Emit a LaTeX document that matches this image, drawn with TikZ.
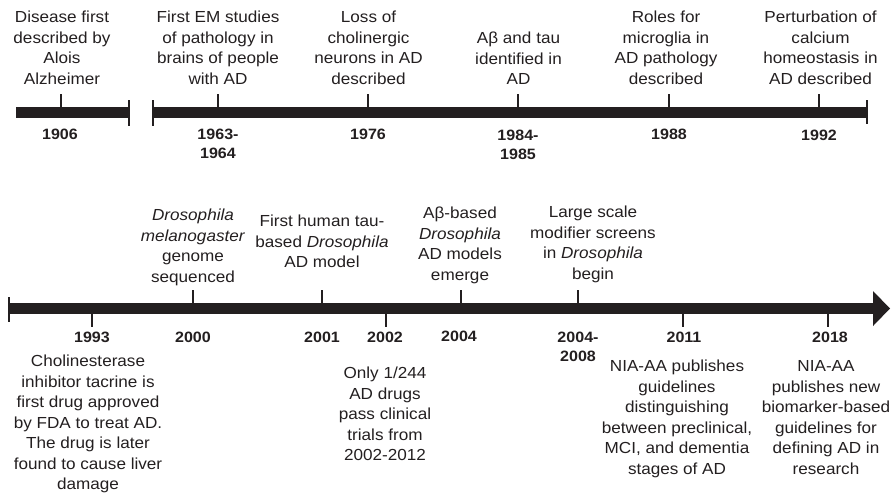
\documentclass[tikz,border=0pt]{standalone}
\usepackage{fontspec}
\setmainfont{Liberation Sans}[FakeStretch=1.07]
\definecolor{txt}{HTML}{231F20}
\newcommand\ml[1]{\begin{tabular}[t]{@{}c@{}}#1\end{tabular}}
\begin{document}
\begin{tikzpicture}[x=1pt,y=-1pt,
  ev/.style={anchor=base, inner sep=0pt, text=txt, font=\fontsize{16}{20.7}\selectfont},
  evb/.style={anchor=base, inner sep=0pt, text=txt, font=\fontsize{16}{20.5}\selectfont},
  yr/.style={anchor=base, inner sep=0pt, text=txt, font=\fontsize{15}{19}\selectfont\bfseries},
  tickline/.style={line width=2pt, draw=txt},
  barfill/.style={fill=txt}]
\useasboundingbox (0,0) rectangle (896,496);

% ---------- top timeline ----------
\fill[barfill] (16,107) rectangle (129,118);
\coordinate (e1a) at (129,100); \coordinate (e1b) at (129,126);
\draw[tickline] (e1a) -- (e1b);
\fill[barfill] (153,107) rectangle (867,118);
\coordinate (s2a) at (153,100); \coordinate (s2b) at (153,126);
\draw[tickline] (s2a) -- (s2b);
\coordinate (e2a) at (867,100); \coordinate (e2b) at (867,124);
\draw[tickline] (e2a) -- (e2b);

\foreach \n/\x in {a/61,b/218,c/368,d/518,e/669,f/819}{
  \coordinate (tt\n1) at (\x,94); \coordinate (tt\n2) at (\x,107);
  \draw[tickline] (tt\n1) -- (tt\n2);
}

\node[ev] (d1906) at (62,22.5) {\ml{Disease first\\described by\\Alois\\Alzheimer}};
\node[ev] (d1963) at (218,22.5) {\ml{First EM studies\\of pathology in\\brains of people\\with AD}};
\node[ev] (d1976) at (368.5,22.5) {\ml{Loss of\\cholinergic\\neurons in AD\\described}};
\node[ev] (d1984) at (518.5,43.5) {\ml{Aβ and tau\\identified in\\AD}};
\node[ev] (d1988) at (666,22.5) {\ml{Roles for\\microglia in\\AD pathology\\described}};
\node[ev] (d1992) at (820.5,22.5) {\ml{Perturbation of\\calcium\\homeostasis in\\AD described}};

\node[yr] (y1906) at (60,139) {1906};
\node[yr] (y1963) at (218,139) {\ml{1963-\\1964}};
\node[yr] (y1976) at (368,139) {1976};
\node[yr] (y1984) at (518,140) {\ml{1984-\\1985}};
\node[yr] (y1988) at (669,139.5) {1988};
\node[yr] (y1992) at (819,140) {1992};

% ---------- bottom timeline ----------
\fill[barfill] (9,303) rectangle (873,314);
\fill[barfill] (873,291) -- (890,308.5) -- (873,326) -- cycle;
\coordinate (s3a) at (9,297); \coordinate (s3b) at (9,322);
\draw[tickline] (s3a) -- (s3b);

\foreach \n/\x in {a/193,b/322,c/461,d/578}{
  \coordinate (ba\n1) at (\x,290); \coordinate (ba\n2) at (\x,303);
  \draw[tickline] (ba\n1) -- (ba\n2);
}
\foreach \n/\x in {a/92,b/386,c/683,d/828}{
  \coordinate (bb\n1) at (\x,314); \coordinate (bb\n2) at (\x,327);
  \draw[tickline] (bb\n1) -- (bb\n2);
}

\node[ev] (d2000) at (193,220.5) {\ml{\textit{Drosophila}\\\textit{melanogaster}\\genome\\sequenced}};
\node[ev] (d2001) at (322,226.5) {\ml{First human tau-\\based \textit{Drosophila}\\AD model}};
\node[ev] (d2004) at (460,218.5) {\ml{Aβ-based\\\textit{Drosophila}\\AD models\\emerge}};
\node[ev] (d2008) at (593,217.5) {\ml{Large scale\\modifier screens\\in \textit{Drosophila}\\begin}};

\node[yr] (y1993) at (92,342) {1993};
\node[yr] (y2000) at (193,342) {2000};
\node[yr] (y2001) at (322,342) {2001};
\node[yr] (y2002) at (385,342) {2002};
\node[yr] (y2004) at (459,341) {2004};
\node[yr] (y2008) at (578,342) {\ml{2004-\\2008}};
\node[yr] (y2011) at (684,342) {2011};
\node[yr] (y2018) at (830,342) {2018};

\node[evb] (d1993) at (88,366.5) {\ml{Cholinesterase\\inhibitor tacrine is\\first drug approved\\by FDA to treat AD.\\The drug is later\\found to cause liver\\damage}};
\node[evb] (d2002) at (385,378.5) {\ml{Only 1/244\\AD drugs\\pass clinical\\trials from\\2002-2012}};
\node[evb] (d2011) at (677,371.5) {\ml{NIA-AA publishes\\guidelines\\distinguishing\\between preclinical,\\MCI, and dementia\\stages of AD}};
\node[evb] (d2018) at (826,371.5) {\ml{NIA-AA\\publishes new\\biomarker-based\\guidelines for\\defining AD in\\research}};
\end{tikzpicture}
\end{document}
